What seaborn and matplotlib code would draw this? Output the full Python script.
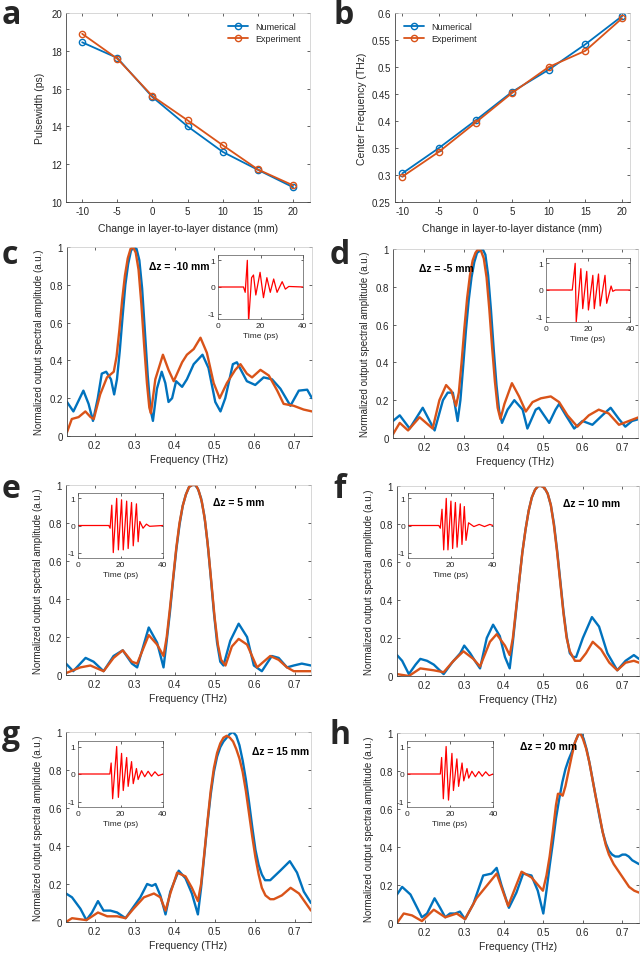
import pandas as pd
import matplotlib
matplotlib.use('Agg')
import matplotlib.pyplot as plt
import seaborn as sns
from matplotlib.ticker import FuncFormatter

sns.set_style('ticks')
plt.rcParams['font.family'] = ['Liberation Sans', 'DejaVu Sans']

BLUE = '#0072BD'
ORANGE = '#D95319'
GREY = '#262626'

# ---- a / b : pulsewidth and centre frequency vs layer distance ----
dz = [-10, -5, 0, 5, 10, 15, 20]
pw_num = [18.45, 17.62, 15.55, 14.0, 12.65, 11.7, 10.78]
pw_exp = [18.9, 17.58, 15.6, 14.32, 13.0, 11.72, 10.88]
cf_num = [0.303, 0.350, 0.401, 0.454, 0.495, 0.542, 0.594]
cf_exp = [0.297, 0.343, 0.397, 0.452, 0.500, 0.530, 0.590]

# ---- c : dz = -10 mm ----
c_f_num = [0.131, 0.147, 0.172, 0.185, 0.196, 0.208, 0.218, 0.229, 0.241, 0.249,
           0.256, 0.263, 0.270, 0.277, 0.284, 0.291, 0.298, 0.305, 0.312, 0.319, 0.326, 0.333, 0.340, 0.346,
           0.356, 0.368, 0.377, 0.385, 0.394,
           0.404, 0.419, 0.431, 0.448, 0.470, 0.485, 0.502, 0.515, 0.527, 0.546, 0.556, 0.581,
           0.602, 0.623, 0.644, 0.665, 0.690, 0.711, 0.732, 0.744]
c_a_num = [0.18, 0.13, 0.24, 0.17, 0.08, 0.20, 0.33, 0.34, 0.30, 0.22,
           0.30, 0.45, 0.63, 0.80, 0.91, 0.98, 1.00, 0.99, 0.93, 0.78, 0.55, 0.32, 0.14, 0.08,
           0.25, 0.34, 0.28, 0.18, 0.20,
           0.29, 0.26, 0.30, 0.38, 0.43, 0.36, 0.18, 0.13, 0.20, 0.38, 0.39, 0.29,
           0.27, 0.31, 0.30, 0.25, 0.16, 0.24, 0.245, 0.20]
c_f_exp = [0.131, 0.143, 0.160, 0.177, 0.190, 0.198, 0.214, 0.231, 0.248,
           0.255, 0.262, 0.269, 0.276, 0.283, 0.290, 0.296, 0.303, 0.310, 0.317, 0.324, 0.331, 0.337, 0.341,
           0.352, 0.371, 0.385, 0.398, 0.419, 0.431, 0.448,
           0.465, 0.481, 0.498, 0.513, 0.531, 0.552, 0.565, 0.581, 0.594, 0.615, 0.636, 0.657,
           0.673, 0.698, 0.723, 0.744]
c_a_exp = [0.02, 0.09, 0.10, 0.13, 0.10, 0.09, 0.22, 0.31, 0.34,
           0.42, 0.56, 0.72, 0.85, 0.94, 0.99, 1.00, 0.97, 0.88, 0.70, 0.48, 0.28, 0.15, 0.12,
           0.30, 0.43, 0.35, 0.29, 0.39, 0.43, 0.46,
           0.52, 0.44, 0.28, 0.20, 0.28, 0.35, 0.38, 0.33, 0.31, 0.35, 0.32, 0.24,
           0.17, 0.16, 0.14, 0.13]

# ---- d : dz = -5 mm ----
d_f_num = [0.122, 0.139, 0.164, 0.197, 0.227, 0.248, 0.260, 0.273, 0.285,
           0.292, 0.299, 0.306, 0.313, 0.320, 0.327, 0.334, 0.341, 0.348, 0.355, 0.362, 0.369, 0.376, 0.383, 0.390, 0.397,
           0.411, 0.428, 0.449, 0.461, 0.482, 0.490, 0.516,
           0.532, 0.541, 0.558, 0.579, 0.600, 0.625, 0.650, 0.671, 0.692, 0.708, 0.725, 0.742]
d_a_num = [0.09, 0.12, 0.05, 0.16, 0.04, 0.20, 0.24, 0.24, 0.09,
           0.20, 0.38, 0.57, 0.73, 0.85, 0.93, 0.98, 0.99, 1.00, 0.97, 0.86, 0.68, 0.47, 0.28, 0.14, 0.08,
           0.15, 0.20, 0.15, 0.05, 0.15, 0.16, 0.08,
           0.15, 0.18, 0.12, 0.05, 0.09, 0.07, 0.12, 0.16, 0.10, 0.06, 0.09, 0.10]
d_f_exp = [0.122, 0.139, 0.160, 0.189, 0.222, 0.239, 0.256, 0.269, 0.281,
           0.288, 0.295, 0.302, 0.309, 0.316, 0.323, 0.330, 0.337, 0.344, 0.351, 0.358, 0.365, 0.372, 0.379, 0.386, 0.393,
           0.403, 0.422, 0.440, 0.457, 0.474, 0.495, 0.520,
           0.541, 0.562, 0.587, 0.616, 0.641, 0.666, 0.692, 0.717, 0.742]
d_a_exp = [0.02, 0.08, 0.04, 0.11, 0.05, 0.20, 0.28, 0.25, 0.17,
           0.24, 0.40, 0.58, 0.74, 0.86, 0.94, 0.98, 1.00, 0.99, 0.95, 0.85, 0.68, 0.48, 0.30, 0.16, 0.10,
           0.18, 0.29, 0.22, 0.14, 0.19, 0.21, 0.22,
           0.19, 0.12, 0.06, 0.12, 0.15, 0.13, 0.07, 0.09, 0.11]

# ---- e : dz = 5 mm ----
e_f_num = [0.128, 0.146, 0.177, 0.197, 0.222, 0.247, 0.270, 0.293, 0.306, 0.335, 0.356, 0.372,
           0.380, 0.388, 0.396, 0.404, 0.412, 0.420, 0.428, 0.436, 0.444, 0.451, 0.458, 0.466,
           0.474, 0.482, 0.490, 0.498, 0.506, 0.514, 0.522,
           0.539, 0.560, 0.581, 0.598, 0.618, 0.643, 0.660, 0.681, 0.698, 0.718, 0.741]
e_a_num = [0.06, 0.02, 0.09, 0.07, 0.02, 0.10, 0.13, 0.06, 0.04, 0.25, 0.17, 0.04,
           0.18, 0.33, 0.50, 0.66, 0.79, 0.89, 0.95, 0.99, 1.00, 1.00, 0.98, 0.93,
           0.84, 0.70, 0.52, 0.33, 0.17, 0.07, 0.05,
           0.18, 0.27, 0.20, 0.05, 0.02, 0.10, 0.09, 0.04, 0.05, 0.06, 0.05]
e_f_exp = [0.128, 0.164, 0.189, 0.222, 0.247, 0.270, 0.293, 0.306, 0.335, 0.356, 0.372,
           0.380, 0.388, 0.396, 0.404, 0.412, 0.420, 0.428, 0.436, 0.444, 0.453, 0.460, 0.468,
           0.476, 0.484, 0.492, 0.500, 0.508, 0.516, 0.527,
           0.543, 0.560, 0.581, 0.606, 0.639, 0.660, 0.681, 0.698, 0.741]
e_a_exp = [0.01, 0.04, 0.05, 0.02, 0.09, 0.13, 0.07, 0.06, 0.21, 0.16, 0.10,
           0.20, 0.35, 0.51, 0.67, 0.80, 0.89, 0.95, 0.99, 1.00, 1.00, 0.97, 0.91,
           0.81, 0.66, 0.48, 0.30, 0.16, 0.08, 0.05,
           0.15, 0.19, 0.16, 0.04, 0.10, 0.08, 0.04, 0.02, 0.02]

# ---- f : dz = 10 mm ----
f_f_num = [0.130, 0.143, 0.160, 0.177, 0.189, 0.206, 0.223, 0.248, 0.269, 0.290, 0.300, 0.315,
           0.327, 0.340, 0.357, 0.373, 0.390, 0.403, 0.415,
           0.423, 0.431, 0.439, 0.447, 0.455, 0.463, 0.471, 0.479, 0.487, 0.495, 0.503, 0.511,
           0.519, 0.527, 0.535, 0.543, 0.551, 0.559, 0.567, 0.575, 0.583,
           0.600, 0.623, 0.641, 0.662, 0.687, 0.708, 0.729, 0.742]
f_a_num = [0.11, 0.08, 0.01, 0.06, 0.09, 0.08, 0.06, 0.01, 0.07, 0.12, 0.16, 0.12,
           0.08, 0.04, 0.20, 0.27, 0.21, 0.10, 0.04,
           0.18, 0.34, 0.50, 0.65, 0.77, 0.87, 0.94, 0.98, 1.00, 1.00, 0.99, 0.96,
           0.90, 0.80, 0.66, 0.50, 0.34, 0.21, 0.12, 0.10, 0.10,
           0.20, 0.31, 0.26, 0.12, 0.03, 0.08, 0.11, 0.09]
f_f_exp = [0.130, 0.160, 0.189, 0.223, 0.248, 0.273, 0.298, 0.323, 0.340, 0.365, 0.382, 0.403, 0.415,
           0.423, 0.431, 0.439, 0.447, 0.455, 0.463, 0.471, 0.479, 0.487, 0.495, 0.503, 0.511,
           0.519, 0.527, 0.535, 0.543, 0.551, 0.559, 0.567, 0.580, 0.593,
           0.608, 0.625, 0.646, 0.667, 0.687, 0.708, 0.729, 0.742]
f_a_exp = [0.01, 0.00, 0.04, 0.03, 0.02, 0.08, 0.13, 0.09, 0.05, 0.18, 0.22, 0.16, 0.11,
           0.20, 0.35, 0.50, 0.65, 0.77, 0.87, 0.94, 0.98, 1.00, 1.00, 0.99, 0.96,
           0.90, 0.79, 0.65, 0.49, 0.33, 0.20, 0.13, 0.08, 0.08,
           0.12, 0.18, 0.14, 0.07, 0.03, 0.07, 0.08, 0.07]

# ---- g : dz = 15 mm ----
g_f_num = [0.128, 0.143, 0.164, 0.179, 0.193, 0.208, 0.222, 0.239, 0.256, 0.277, 0.297, 0.314,
           0.331, 0.343, 0.352, 0.364, 0.377, 0.389, 0.410, 0.427, 0.443, 0.458,
           0.466, 0.474, 0.482, 0.490, 0.498, 0.506, 0.514, 0.522, 0.530, 0.538, 0.546, 0.554,
           0.562, 0.570, 0.578, 0.586, 0.594, 0.602, 0.610, 0.618, 0.626, 0.639,
           0.664, 0.688, 0.706, 0.723, 0.741]
g_a_num = [0.15, 0.13, 0.07, 0.01, 0.05, 0.11, 0.06, 0.06, 0.05, 0.02, 0.08, 0.13,
           0.20, 0.19, 0.20, 0.14, 0.04, 0.16, 0.27, 0.23, 0.15, 0.04,
           0.18, 0.35, 0.52, 0.67, 0.79, 0.87, 0.92, 0.95, 0.97, 0.99, 1.00, 0.98,
           0.93, 0.85, 0.75, 0.63, 0.50, 0.38, 0.30, 0.25, 0.22, 0.22,
           0.27, 0.32, 0.26, 0.16, 0.10]
g_f_exp = [0.128, 0.143, 0.179, 0.208, 0.231, 0.256, 0.277, 0.297, 0.323, 0.348, 0.364, 0.377,
           0.389, 0.406, 0.427, 0.443, 0.458,
           0.466, 0.474, 0.482, 0.490, 0.498, 0.506, 0.514, 0.522, 0.530, 0.538, 0.546, 0.554,
           0.562, 0.570, 0.578, 0.586, 0.594, 0.602, 0.610, 0.618, 0.627, 0.639, 0.648,
           0.668, 0.690, 0.711, 0.741]
g_a_exp = [0.00, 0.02, 0.01, 0.05, 0.03, 0.03, 0.02, 0.07, 0.13, 0.15, 0.13, 0.06,
           0.15, 0.26, 0.24, 0.18, 0.11,
           0.20, 0.36, 0.53, 0.69, 0.81, 0.89, 0.94, 0.97, 0.98, 0.97, 0.95, 0.91,
           0.86, 0.79, 0.69, 0.57, 0.45, 0.34, 0.25, 0.18, 0.14, 0.12, 0.12,
           0.14, 0.18, 0.15, 0.06]

# ---- h : dz = 20 mm ----
h_f_num = [0.130, 0.143, 0.164, 0.181, 0.193, 0.206, 0.225, 0.239, 0.252, 0.264, 0.277, 0.289,
           0.302, 0.323, 0.348, 0.369, 0.382, 0.394, 0.413, 0.432, 0.449, 0.470, 0.486, 0.500,
           0.508, 0.516, 0.524, 0.532, 0.540, 0.548, 0.556, 0.564, 0.572, 0.580, 0.588, 0.595,
           0.602, 0.610, 0.618, 0.626, 0.634, 0.642, 0.650, 0.658, 0.666, 0.674, 0.682, 0.691,
           0.700, 0.708, 0.716, 0.725, 0.742]
h_a_num = [0.15, 0.19, 0.15, 0.08, 0.03, 0.05, 0.13, 0.08, 0.03, 0.05, 0.05, 0.06,
           0.02, 0.10, 0.25, 0.26, 0.29, 0.20, 0.08, 0.16, 0.26, 0.25, 0.17, 0.05,
           0.17, 0.30, 0.42, 0.55, 0.65, 0.74, 0.81, 0.86, 0.90, 0.95, 0.99, 1.00,
           0.97, 0.91, 0.83, 0.74, 0.65, 0.56, 0.48, 0.42, 0.38, 0.36, 0.35, 0.35,
           0.36, 0.36, 0.35, 0.33, 0.31]
h_f_exp = [0.130, 0.147, 0.168, 0.193, 0.223, 0.252, 0.281, 0.302, 0.331, 0.382, 0.411, 0.445,
           0.470, 0.499, 0.508, 0.516, 0.524, 0.532, 0.537, 0.543, 0.549, 0.556, 0.564, 0.572,
           0.580, 0.588, 0.593, 0.600, 0.608, 0.616, 0.624, 0.632, 0.641, 0.650, 0.658, 0.666,
           0.678, 0.691, 0.704, 0.717, 0.730, 0.742]
h_a_exp = [0.00, 0.05, 0.04, 0.01, 0.07, 0.03, 0.05, 0.02, 0.13, 0.26, 0.09, 0.27,
           0.24, 0.17, 0.25, 0.35, 0.48, 0.62, 0.68, 0.68, 0.67, 0.72, 0.80, 0.88,
           0.95, 0.99, 1.00, 0.97, 0.92, 0.85, 0.76, 0.67, 0.58, 0.48, 0.41, 0.36,
           0.31, 0.27, 0.23, 0.19, 0.17, 0.16]

# ---- inset time traces (ps, normalised field) ----
c_t = [0, 12, 12.8, 13.8, 14.4, 15.8, 16.7, 17.8, 19.8, 21.4, 23.0, 24.6, 26.2, 27.8, 30.2, 31.7, 33.3, 40]
c_v = [0, 0, -0.2, 1.0, -1.3, 0.35, 0.45, -0.3, 0.55, -0.4, 0.35, -0.2, 0.3, -0.2, 0.2, -0.08, 0.02, 0]
d_t = [0, 12.5, 13.9, 14.4, 16.6, 17.5, 19.4, 20.2, 22.3, 23.0, 25.0, 25.8, 28.1, 28.9, 31.0, 31.8, 33, 40]
d_v = [0, 0, 1.0, -1.2, 0.8, -0.7, 0.7, -0.75, 0.55, -0.7, 0.6, -0.6, 0.55, -0.5, 0.15, -0.05, 0, 0]
e_t = [0, 14.5, 15.1, 15.9, 16.6, 18.2, 19.0, 20.5, 21.3, 22.9, 23.6, 25.2, 26.0, 27.5, 28.3, 29.1, 30.6, 32.2, 33.7, 40]
e_v = [0, 0, -0.1, 0.75, -1.0, 1.0, -0.9, 0.95, -0.9, 0.9, -0.85, 0.85, -0.75, 0.8, -0.6, 0.15, -0.1, 0.05, -0.03, 0]
f_t = [0, 14.5, 15.2, 16.0, 16.8, 18.0, 18.8, 20.2, 21.0, 22.3, 23.1, 24.6, 25.4, 26.5, 27.3, 28.5, 31, 33.5, 36, 38.5, 40]
f_v = [0, 0, -0.1, 0.6, -0.9, 1.0, -0.9, 0.9, -0.85, 0.85, -0.8, 0.8, -0.7, 0.7, -0.55, 0.1, -0.04, 0.04, -0.04, 0.04, 0]
g_t = [0, 15, 15.6, 16.3, 18.2, 19.0, 20.5, 21.3, 22.9, 23.6, 25.2, 26.0, 27.5, 28.3, 29.9, 31.4, 33, 34.6, 36.2, 37.8, 40]
g_v = [0, 0, 0.4, -0.9, 1.0, -0.85, 0.75, -0.6, 0.6, -0.45, 0.45, -0.35, 0.2, -0.2, 0.12, -0.1, 0.1, -0.08, 0.08, -0.06, 0]
h_t = [0, 15.5, 16.1, 16.9, 18.2, 19.3, 20.9, 21.6, 23.2, 24.0, 25.6, 26.4, 27.9, 28.7, 30.2, 31.8, 33.4, 35, 36.6, 38.2, 40]
h_v = [0, 0, 0.6, -0.9, 1.0, -0.95, 0.75, -0.6, 0.55, -0.45, 0.4, -0.25, 0.2, -0.15, 0.1, -0.1, 0.09, -0.08, 0.08, -0.06, 0]

W, H = 640, 954
fig = plt.figure(figsize=(W / 100, H / 100), dpi=100)
fmt = FuncFormatter(lambda v, p: f'{v:g}')


def box(l, t, r, b):
    return [l / W, 1 - b / H, (r - l) / W, (b - t) / H]


def style_axes(ax, size=7):
    ax.tick_params(direction='in', length=2.5, width=0.5, labelsize=size, colors=GREY,
                   top=True, right=True, pad=3)
    for side in ['left', 'bottom']:
        ax.spines[side].set_color('#444444')
        ax.spines[side].set_linewidth(0.6)
    for side in ['top', 'right']:
        ax.spines[side].set_color('#c8c8c8')
        ax.spines[side].set_linewidth(0.5)
    ax.xaxis.set_major_formatter(fmt)
    ax.yaxis.set_major_formatter(fmt)


def letter(x, y, s):
    fig.text(x / W, 1 - y / H, s, fontsize=23, fontweight='bold', ha='left', va='center',
             family=['Open Sans', 'DejaVu Sans'])


def trend(rect, num, exp, ylim, yticks, ylabel, loc):
    ax = fig.add_axes(box(*rect))
    sns.lineplot(x=dz, y=num, ax=ax, color=BLUE, marker='o', markersize=4.5, mfc='none',
                 mec=BLUE, mew=1.0, lw=1.3, label='Numerical')
    sns.lineplot(x=dz, y=exp, ax=ax, color=ORANGE, marker='o', markersize=4.5, mfc='none',
                 mec=ORANGE, mew=1.0, lw=1.3, label='Experiment')
    ax.set_xticks(dz)
    ax.set_yticks(yticks)
    ax.set_ylim(*ylim)
    style_axes(ax)
    ax.set_ylabel(ylabel, fontsize=7.5, color=GREY, labelpad=4)
    ax.set_xlabel('Change in layer-to-layer distance (mm)', fontsize=7.5, color=GREY, labelpad=5)
    ax.legend(loc=loc, frameon=False, fontsize=6.5, handlelength=2.2, borderaxespad=0.6,
              labelspacing=0.3)
    return ax


def spectrum(rect, fn, an, fe, ae, xlim, label, lx, ly, inrect, t, v):
    ax = fig.add_axes(box(*rect))
    df = pd.concat([
        pd.DataFrame({'freq': fn, 'amp': an, 'src': 'Numerical'}),
        pd.DataFrame({'freq': fe, 'amp': ae, 'src': 'Experiment'}),
    ])
    sns.lineplot(data=df, x='freq', y='amp', hue='src', ax=ax, sort=False, lw=1.7,
                 palette={'Numerical': BLUE, 'Experiment': ORANGE}, legend=False)
    ax.set_xlim(*xlim)
    ax.set_ylim(0, 1)
    ax.set_xticks([0.2, 0.3, 0.4, 0.5, 0.6, 0.7])
    ax.set_yticks([0, 0.2, 0.4, 0.6, 0.8, 1])
    style_axes(ax)
    ax.set_xlabel('Frequency (THz)', fontsize=7.5, color=GREY, labelpad=3)
    ax.set_ylabel('Normalized output spectral amplitude (a.u.)', fontsize=7, color=GREY, labelpad=4)
    ax.text(lx, ly, label, fontsize=7.5, fontweight='bold', color='black',
            family=['Liberation Sans Narrow', 'Liberation Sans'], va='center')

    ins = fig.add_axes(box(*inrect))
    sns.lineplot(x=t, y=v, ax=ins, color='red', lw=0.9, sort=False)
    ins.set_xlim(0, 40)
    ins.set_ylim(-1.2, 1.2)
    ins.set_xticks([0, 20, 40])
    ins.set_yticks([-1, 0, 1])
    style_axes(ins, size=6)
    ins.tick_params(length=1.8, pad=2)
    for side in ins.spines.values():
        side.set_color('#555555')
        side.set_linewidth(0.5)
    ins.set_xlabel('Time (ps)', fontsize=6, color=GREY, labelpad=2)
    return ax


trend((66, 14, 310, 203), pw_num, pw_exp, (10, 20), [10, 12, 14, 16, 18, 20],
      'Pulsewidth (ps)', 'upper right').set_xlim(-12.3, 22.4)
trend((395, 14, 630, 203), cf_num, cf_exp, (0.25, 0.6),
      [0.25, 0.3, 0.35, 0.4, 0.45, 0.5, 0.55, 0.6],
      'Center Frequency (THz)', 'upper left').set_xlim(-11.0, 21.1)

spectrum((67, 248, 312, 437), c_f_num, c_a_num, c_f_exp, c_a_exp, (0.131, 0.744),
         'Δz = -10 mm', 0.335, 0.9, (218, 256, 303, 320), c_t, c_v)
spectrum((393, 250, 638, 439), d_f_num, d_a_num, d_f_exp, d_a_exp, (0.122, 0.74),
         'Δz = -5 mm', 0.187, 0.9, (546, 259, 630, 323), d_t, d_v)
spectrum((66, 486, 311, 676), e_f_num, e_a_num, e_f_exp, e_a_exp, (0.128, 0.741),
         'Δz = 5 mm', 0.495, 0.91, (78, 494, 163, 559), e_t, e_v)
spectrum((397, 487, 639, 677), f_f_num, f_a_num, f_f_exp, f_a_exp, (0.13, 0.742),
         'Δz = 10 mm', 0.549, 0.91, (408, 494, 493, 559), f_t, f_v)
spectrum((66, 733, 311, 923), g_f_num, g_a_num, g_f_exp, g_a_exp, (0.128, 0.741),
         'Δz = 15 mm', 0.593, 0.9, (78, 742, 163, 808), g_t, g_v)
spectrum((397, 734, 639, 924), h_f_num, h_a_num, h_f_exp, h_a_exp, (0.13, 0.742),
         'Δz = 20 mm', 0.44, 0.93, (407, 742, 493, 808), h_t, h_v)

for x, y, s in [(2, 16, 'a'), (333, 16, 'b'), (2, 256, 'c'), (330, 256, 'd'),
                (2, 490, 'e'), (333, 490, 'f'), (2, 736, 'g'), (330, 736, 'h')]:
    letter(x, y, s)

fig.savefig('out.png', dpi=100)
